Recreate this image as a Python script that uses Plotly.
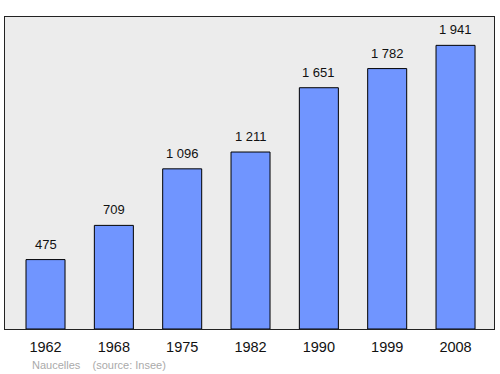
import plotly.graph_objects as go

years = ["1962", "1968", "1975", "1982", "1990", "1999", "2008"]
population = [475, 709, 1096, 1211, 1651, 1782, 1941]
footer_place = "Naucelles"
footer_source = "(source: Insee)"

idx = list(range(len(years)))
labels = [f"{v:,}".replace(",", " ") for v in population]

fig = go.Figure(go.Bar(
    x=idx, y=population, width=0.571,
    marker=dict(color="#7095ff", line=dict(color="#000000", width=1)),
))

annotations = [dict(
    x=i, y=v, xref="x", yref="y", text=t, showarrow=False,
    yanchor="bottom", yshift=6,
    font=dict(family="Liberation Sans, Arial, sans-serif", size=13, color="#111111"),
) for i, v, t in zip(idx, population, labels)]

annotations.append(dict(
    xref="paper", yref="paper", x=0.051, y=-0.09, xanchor="left", yanchor="top",
    text=footer_place + "    " + footer_source, showarrow=False,
    font=dict(size=11, color="#aaaaaa"),
))

fig.update_layout(
    width=500, height=374,
    margin=dict(l=5, r=6, t=17, b=45),
    paper_bgcolor="white", plot_bgcolor="#ececec",
    showlegend=False,
    font=dict(family="Liberation Sans, Arial, sans-serif"),
    xaxis=dict(range=[-0.593, 6.563], tickvals=idx, ticktext=years,
               showgrid=False, zeroline=False,
               showline=True, linecolor="#222222", linewidth=1, mirror=True,
               ticks="outside", ticklen=5, tickcolor="rgba(0,0,0,0)",
               tickfont=dict(size=14.5, color="#111111")),
    yaxis=dict(range=[0, 2135], showgrid=False, zeroline=False,
               showticklabels=False, ticks="",
               showline=True, linecolor="#222222", linewidth=1, mirror=True),
    annotations=annotations,
)

fig.write_html("out.html")
